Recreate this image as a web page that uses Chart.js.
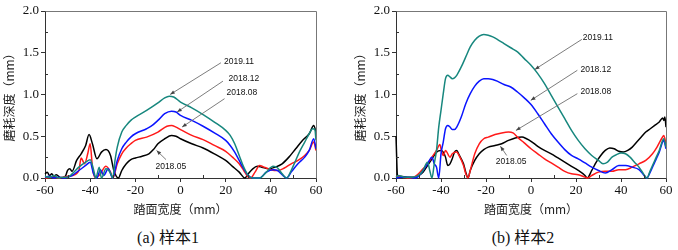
<!DOCTYPE html>
<html><head><meta charset="utf-8">
<script src="https://cdn.jsdelivr.net/npm/chart.js@4.4.1/dist/chart.umd.min.js"></script>
<style>
html,body{margin:0;padding:0;background:#fff;}
body{width:678px;height:250px;position:relative;overflow:hidden;}
.box{position:absolute;top:0;width:339px;height:220px;}
.cap{position:absolute;top:229px;font:16px "Liberation Serif","Noto Sans CJK SC",serif;color:#111;white-space:nowrap;transform:translateX(-50%);line-height:18px;}
</style></head><body>
<div class="box" style="left:0"><canvas id="c1" width="339" height="220"></canvas></div>
<div class="box" style="left:339px"><canvas id="c2" width="339" height="220"></canvas></div>
<div class="cap" style="left:168px">(a) 样本1</div>
<div class="cap" style="left:523px">(b) 样本2</div>
<script>
// ---------- DATA ----------
const seriesNames = ["2019.11", "2018.12", "2018.08", "2018.05"];
const xTicks = [-60, -40, -20, 0, 20, 40, 60];
const yTicks = [0.0, 0.5, 1.0, 1.5, 2.0];
const xTitle = "踏面宽度（mm）";
const yTitle = "磨耗深度（mm）";

// Sample 1
const s1_1911_x = [-60,-58,-56,-54,-52,-50,-48,-45,-42,-40,-38.5,-37.5,-36,-35,-33,-31,-30,-29,-28,-26,-24,-22,-20,-15,-10,-7,-5,-3,0,5,10,15,20,22,24,26,28,30,32,35,38,41,43,45,47,49,51,53,55,57,58.5,59.5,60];
const s1_1911_y = [0.02,0.01,0.03,0.0,0.01,0.01,0.05,0.13,0.19,0.22,0.1,0.0,0.13,0.0,0.11,0.06,0.0,0.21,0.37,0.55,0.63,0.69,0.73,0.81,0.90,0.96,0.98,0.97,0.91,0.84,0.76,0.67,0.57,0.51,0.41,0.27,0.13,0.03,0.0,0.0,0.07,0.14,0.12,0.05,0.0,0.09,0.21,0.33,0.43,0.53,0.59,0.58,0.45];
const s1_1812_x = [-60,-58,-56,-54,-52,-50,-48,-45,-42,-40,-38.5,-37,-35.5,-34,-32,-30,-28,-26,-24,-22,-20,-15,-13,-10,-7,-4,-2,0,5,10,15,20,22,24,26,28,30,32,35,38,41,43,45,47,49,52,55,57,59,60];
const s1_1812_y = [0.01,0.02,0.0,0.01,0.0,0.01,0.03,0.09,0.15,0.19,0.05,0.0,0.1,0.03,0.11,0.0,0.21,0.35,0.43,0.49,0.53,0.59,0.62,0.69,0.77,0.80,0.79,0.75,0.69,0.62,0.54,0.45,0.39,0.31,0.21,0.11,0.03,0.0,0.0,0.07,0.10,0.09,0.04,0.0,0.07,0.17,0.25,0.33,0.47,0.35];
const s1_1808_x = [-60,-57,-54,-52,-50,-48,-45,-44,-42.5,-41,-40,-39,-38,-36,-33,-31,-30,-28,-26,-24,-22,-20,-15,-10,-6,-4,-2,0,5,10,15,20,23,26,28,30,31,33,35,37,40,43,46,49,52,55,57,59,60];
const s1_1808_y = [0.0,0.01,0.0,0.01,0.02,0.03,0.09,0.24,0.17,0.3,0.41,0.13,0.01,0.03,0.14,0.07,0.0,0.17,0.29,0.36,0.41,0.45,0.49,0.55,0.62,0.63,0.61,0.58,0.51,0.46,0.39,0.32,0.25,0.17,0.09,0.01,0.0,0.07,0.15,0.13,0.10,0.09,0.12,0.17,0.21,0.27,0.33,0.43,0.33];
const s1_1805_x = [-60,-59,-58,-57,-56,-55,-53,-51,-50,-49,-48,-46,-44,-42,-40.5,-39,-37,-35,-33,-31,-29.5,-27.5,-26,-24,-22,-20,-17,-14,-12,-10,-7,-4,-2,0,5,10,15,20,23,26,28.5,30,32,34,36,39,42,45,48,51,54,57,59,60];
const s1_1805_y = [0.05,0.07,0.03,0.05,0.02,0.04,0.0,0.02,0.09,0.11,0.08,0.21,0.29,0.39,0.52,0.41,0.23,0.31,0.34,0.27,0.09,0.0,0.09,0.17,0.22,0.24,0.26,0.29,0.34,0.41,0.47,0.51,0.50,0.47,0.41,0.36,0.29,0.21,0.14,0.07,0.0,0.05,0.11,0.14,0.13,0.11,0.13,0.17,0.25,0.35,0.45,0.53,0.63,0.55];

// Sample 2
const s2_1911_x = [-60,-59,-56,-53,-50,-48,-46,-45,-44,-43,-42,-41,-40,-39,-38,-37,-36,-35,-34,-33,-31,-29,-27,-25,-23,-21,-19,-17,-15,-12,-9,-6,-3,0,3,6,9,12,15,18,21,24,27,30,32,34,36,38,40,42,44,46,48,50,51.5,53,55,57,59,60];
const s2_1911_y = [0.01,0.03,0.01,0.01,0.03,0.09,0.19,0.09,0.0,0.17,0.33,0.61,0.81,1.01,1.19,1.23,1.21,1.19,1.2,1.23,1.33,1.45,1.57,1.65,1.70,1.72,1.71,1.69,1.66,1.61,1.56,1.51,1.43,1.35,1.25,1.13,0.99,0.85,0.71,0.57,0.45,0.35,0.27,0.21,0.17,0.19,0.25,0.28,0.30,0.29,0.25,0.19,0.13,0.05,0.0,0.09,0.21,0.33,0.47,0.37];
const s2_1812_x = [-60,-58,-55,-52,-50,-48,-46,-44,-43,-42,-41,-40,-39,-38,-37,-36,-35,-34,-33,-31,-29,-27,-25,-23,-21,-19,-17,-15,-12,-9,-6,-3,0,3,6,9,12,15,18,21,24,27,30,33,36,39,42,45,48,50,51.5,53,55,57,59,60];
const s2_1812_y = [0.0,0.01,0.01,0.0,0.02,0.09,0.17,0.25,0.17,0.13,0.0,0.29,0.43,0.59,0.63,0.61,0.58,0.58,0.61,0.73,0.89,1.01,1.10,1.16,1.19,1.19,1.18,1.16,1.12,1.09,1.03,0.96,0.88,0.77,0.65,0.53,0.43,0.34,0.27,0.23,0.18,0.13,0.09,0.06,0.10,0.15,0.15,0.13,0.10,0.04,0.0,0.07,0.19,0.31,0.45,0.35];
const s2_1808_x = [-60,-57,-54,-52,-50,-48,-46,-44,-42,-40.5,-40,-39,-38,-36,-35,-33,-32,-30,-29,-28,-27,-25,-23,-21,-19,-16,-13,-10,-8,-6,-3,0,3,6,9,12,15,18,21,24,25,27,30,33,36,39,42,45,48,51,54,56,58,59,60];
const s2_1808_y = [0.02,0.01,0.0,0.01,0.05,0.11,0.17,0.25,0.33,0.40,0.35,0.27,0.33,0.25,0.29,0.31,0.27,0.15,0.05,0.0,0.09,0.29,0.41,0.47,0.49,0.52,0.54,0.55,0.54,0.49,0.42,0.35,0.29,0.23,0.18,0.13,0.08,0.05,0.04,0.01,0.0,0.03,0.07,0.08,0.08,0.10,0.10,0.13,0.17,0.21,0.29,0.37,0.47,0.51,0.41];
const s2_1805_x = [-60,-59.3,-58,-55,-52,-50,-48,-46,-44,-42,-40,-39,-38,-37,-36,-35,-34,-33,-32,-30,-29,-28,-27,-25,-23,-21,-19,-16,-13,-10,-7,-4,-2,0,3,6,9,12,15,18,21,24,25,27,29,31,33,35,37,39,41,43,45,47,49,51,53,55,57,58.5,59,59.5,60];
const s2_1805_y = [0.5,0.01,0.02,0.01,0.01,0.03,0.07,0.15,0.23,0.31,0.33,0.31,0.25,0.15,0.17,0.23,0.31,0.33,0.28,0.17,0.07,0.0,0.09,0.21,0.29,0.34,0.37,0.39,0.41,0.45,0.48,0.49,0.47,0.44,0.38,0.33,0.29,0.24,0.19,0.14,0.09,0.03,0.0,0.09,0.19,0.27,0.33,0.36,0.35,0.32,0.31,0.33,0.37,0.43,0.49,0.55,0.59,0.63,0.67,0.72,0.69,0.73,0.61];

// annotation anchors in data units (label pos, arrow start, arrow end)
const notes1 = [
  {t:"2019.11", tx:25.9, ty:1.39, x1:17.9, y1:1.38, x2:-4.6, y2:1.0},
  {t:"2018.12", tx:28.1, ty:1.19, x1:18.8, y1:1.16, x2:-1.5, y2:0.79},
  {t:"2018.08", tx:27.2, ty:1.02, x1:19.5, y1:0.95, x2:0.7, y2:0.61},
  {t:"2018.05", tx:-4.3, ty:0.14, x1:-6.4, y1:0.22, x2:-10.6, y2:0.33}
];
const notes2 = [
  {t:"2019.11", tx:29.7, ty:1.68, x1:22.6, y1:1.66, x2:1.7, y2:1.30},
  {t:"2018.12", tx:28.8, ty:1.30, x1:20.6, y1:1.29, x2:-0.1, y2:0.93},
  {t:"2018.08", tx:28.8, ty:1.04, x1:20.6, y1:1.01, x2:-6.7, y2:0.57},
  {t:"2018.05", tx:-8.8, ty:0.19, x1:-10.8, y1:0.27, x2:-13.6, y2:0.38}
];

// ---------- STYLE ----------
const colors = ["#17877e", "#0a14ff", "#ff1a1a", "#000000"];
const zip = (xs, ys) => xs.map((x, i) => ({x: x, y: ys[i]}));

const decor = {
  id: 'decor',
  afterDraw(chart, args, opts) {
    const ctx = chart.ctx, a = chart.chartArea;
    const xs = chart.scales.x, ys = chart.scales.y;
    ctx.save();
    // frame top & right
    ctx.strokeStyle = '#777'; ctx.lineWidth = 1;
    ctx.beginPath();
    ctx.moveTo(Math.round(a.left) + 0.5, Math.round(a.top) + 0.5);
    ctx.lineTo(Math.round(a.right) + 0.5, Math.round(a.top) + 0.5);
    ctx.lineTo(Math.round(a.right) + 0.5, Math.round(a.bottom) + 0.5);
    ctx.stroke();
    // minor ticks inward
    ctx.strokeStyle = '#333';
    ctx.beginPath();
    [-50, -30, -10, 10, 30, 50].forEach(v => {
      const px = Math.round(xs.getPixelForValue(v)) + 0.5;
      ctx.moveTo(px, a.bottom); ctx.lineTo(px, a.bottom - 3);
    });
    [0.25, 0.75, 1.25, 1.75].forEach(v => {
      const py = Math.round(ys.getPixelForValue(v)) + 0.5;
      ctx.moveTo(a.left, py); ctx.lineTo(a.left + 3, py);
    });
    ctx.stroke();
    // annotations
    ctx.font = '8.5px "Liberation Sans", Arial, sans-serif';
    ctx.fillStyle = '#111';
    ctx.textAlign = 'center'; ctx.textBaseline = 'middle';
    (opts.notes || []).forEach(n => {
      ctx.fillText(n.t, xs.getPixelForValue(n.tx), ys.getPixelForValue(n.ty));
      const x1 = xs.getPixelForValue(n.x1), y1 = ys.getPixelForValue(n.y1);
      const x2 = xs.getPixelForValue(n.x2), y2 = ys.getPixelForValue(n.y2);
      ctx.strokeStyle = '#6e6e6e'; ctx.lineWidth = 0.9;
      ctx.beginPath(); ctx.moveTo(x1, y1); ctx.lineTo(x2, y2); ctx.stroke();
      const ang = Math.atan2(y2 - y1, x2 - x1), L = 5, W = 0.38;
      ctx.fillStyle = '#444';
      ctx.beginPath();
      ctx.moveTo(x2, y2);
      ctx.lineTo(x2 - L * Math.cos(ang - W), y2 - L * Math.sin(ang - W));
      ctx.lineTo(x2 - L * Math.cos(ang + W), y2 - L * Math.sin(ang + W));
      ctx.closePath(); ctx.fill();
      ctx.fillStyle = '#111';
    });
    ctx.restore();
  }
};

function makeChart(id, series, notes, padLeft, padRight) {
  const datasets = series.map((s, i) => ({
    label: seriesNames[i],
    data: s,
    borderColor: colors[i],
    borderWidth: 1.5,
    pointRadius: 0,
    fill: false,
    cubicInterpolationMode: 'monotone',
    clip: 3
  }));
  return new Chart(document.getElementById(id), {
    type: 'line',
    data: {datasets: datasets},
    plugins: [decor],
    options: {
      responsive: false,
      animation: false,
      devicePixelRatio: 1,
      layout: {padding: {left: padLeft, right: padRight, top: 11, bottom: 0}},
      plugins: {legend: {display: false}, tooltip: {enabled: false}, decor: {notes: notes}},
      scales: {
        x: {
          type: 'linear', min: -60, max: 60,
          afterBuildTicks: s => { s.ticks = xTicks.map(v => ({value: v})); },
          afterFit: s => { s.height = 42; },
          border: {color: '#333', width: 1},
          grid: {drawOnChartArea: false, tickLength: 4, color: '#333'},
          ticks: {color: '#111', padding: 1, maxRotation: 0,
                  font: {family: '"Liberation Serif", "Times New Roman", serif', size: 13}},
          title: {display: true, text: xTitle, color: '#222', padding: {top: 2, bottom: 3},
                  font: {family: '"Noto Sans CJK SC", sans-serif', size: 12}}
        },
        y: {
          type: 'linear', min: 0, max: 2,
          afterBuildTicks: s => { s.ticks = yTicks.map(v => ({value: v})); },
          afterFit: s => { s.width = 45; },
          border: {color: '#333', width: 1},
          grid: {drawOnChartArea: false, tickLength: 4, color: '#333'},
          ticks: {color: '#111', padding: 2, callback: v => Number(v).toFixed(1),
                  font: {family: '"Liberation Serif", "Times New Roman", serif', size: 13}},
          title: {display: true, text: yTitle, color: '#222', padding: {top: 2, bottom: 0},
                  font: {family: '"Noto Sans CJK SC", sans-serif', size: 12}}
        }
      }
    }
  });
}

makeChart('c1', [
  zip(s1_1911_x, s1_1911_y), zip(s1_1812_x, s1_1812_y),
  zip(s1_1808_x, s1_1808_y), zip(s1_1805_x, s1_1805_y)
], notes1, 0, 23);
makeChart('c2', [
  zip(s2_1911_x, s2_1911_y), zip(s2_1812_x, s2_1812_y),
  zip(s2_1808_x, s2_1808_y), zip(s2_1805_x, s2_1805_y)
], notes2, 12, 12);
</script>
</body></html>
